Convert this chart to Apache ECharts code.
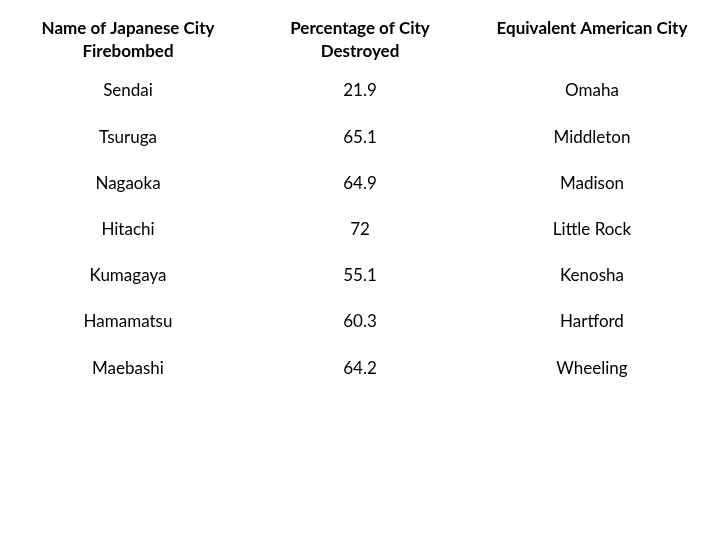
<!DOCTYPE html>
<html>
<head>
<meta charset="utf-8">
<script src="https://cdn.jsdelivr.net/npm/echarts@6/dist/echarts.min.js"></script>
<style>html,body{margin:0;background:#fff}#chart{width:720px;height:540px}</style>
</head>
<body>
<div id="chart"></div>
<script>
const headers = ['Name of Japanese City\nFirebombed', 'Percentage of City\nDestroyed', 'Equivalent American City']
const japaneseCities = ['Sendai', 'Tsuruga', 'Nagaoka', 'Hitachi', 'Kumagaya', 'Hamamatsu', 'Maebashi']
const percentDestroyed = ['21.9', '65.1', '64.9', '72', '55.1', '60.3', '64.2']
const americanCities = ['Omaha', 'Middleton', 'Madison', 'Little Rock', 'Kenosha', 'Hartford', 'Wheeling']

const rows = ['header'].concat(japaneseCities)
const cells = []
headers.forEach((h, c) => cells.push([c, 0, h, 1]))
japaneseCities.forEach((v, i) => {
  cells.push([0, i + 1, v, 0])
  cells.push([1, i + 1, percentDestroyed[i], 0])
  cells.push([2, i + 1, americanCities[i], 0])
})

let myChart = echarts.init(document.getElementById('chart'))
myChart.setOption({
  animation: false,
  grid: { left: 12, width: 696, top: 21.7, height: 369.6 },
  xAxis: { type: 'category', data: [0, 1, 2], show: false },
  yAxis: { type: 'category', data: rows, inverse: true, show: false },
  series: [{
    type: 'custom',
    data: cells,
    renderItem: (params, api) => {
      const p = api.coord([api.value(0), api.value(1)])
      const bold = api.value(3) === 1
      return {
        type: 'text',
        x: p[0],
        y: p[1] + (bold ? -28 : 0),
        style: {
          text: cells[params.dataIndex][2],
          fill: '#000',
          font: (bold ? 'bold ' : '') + '17px Lato, sans-serif',
          align: 'center',
          verticalAlign: bold ? 'top' : 'middle',
          lineHeight: 23
        }
      }
    }
  }]
})
</script>
</body>
</html>
